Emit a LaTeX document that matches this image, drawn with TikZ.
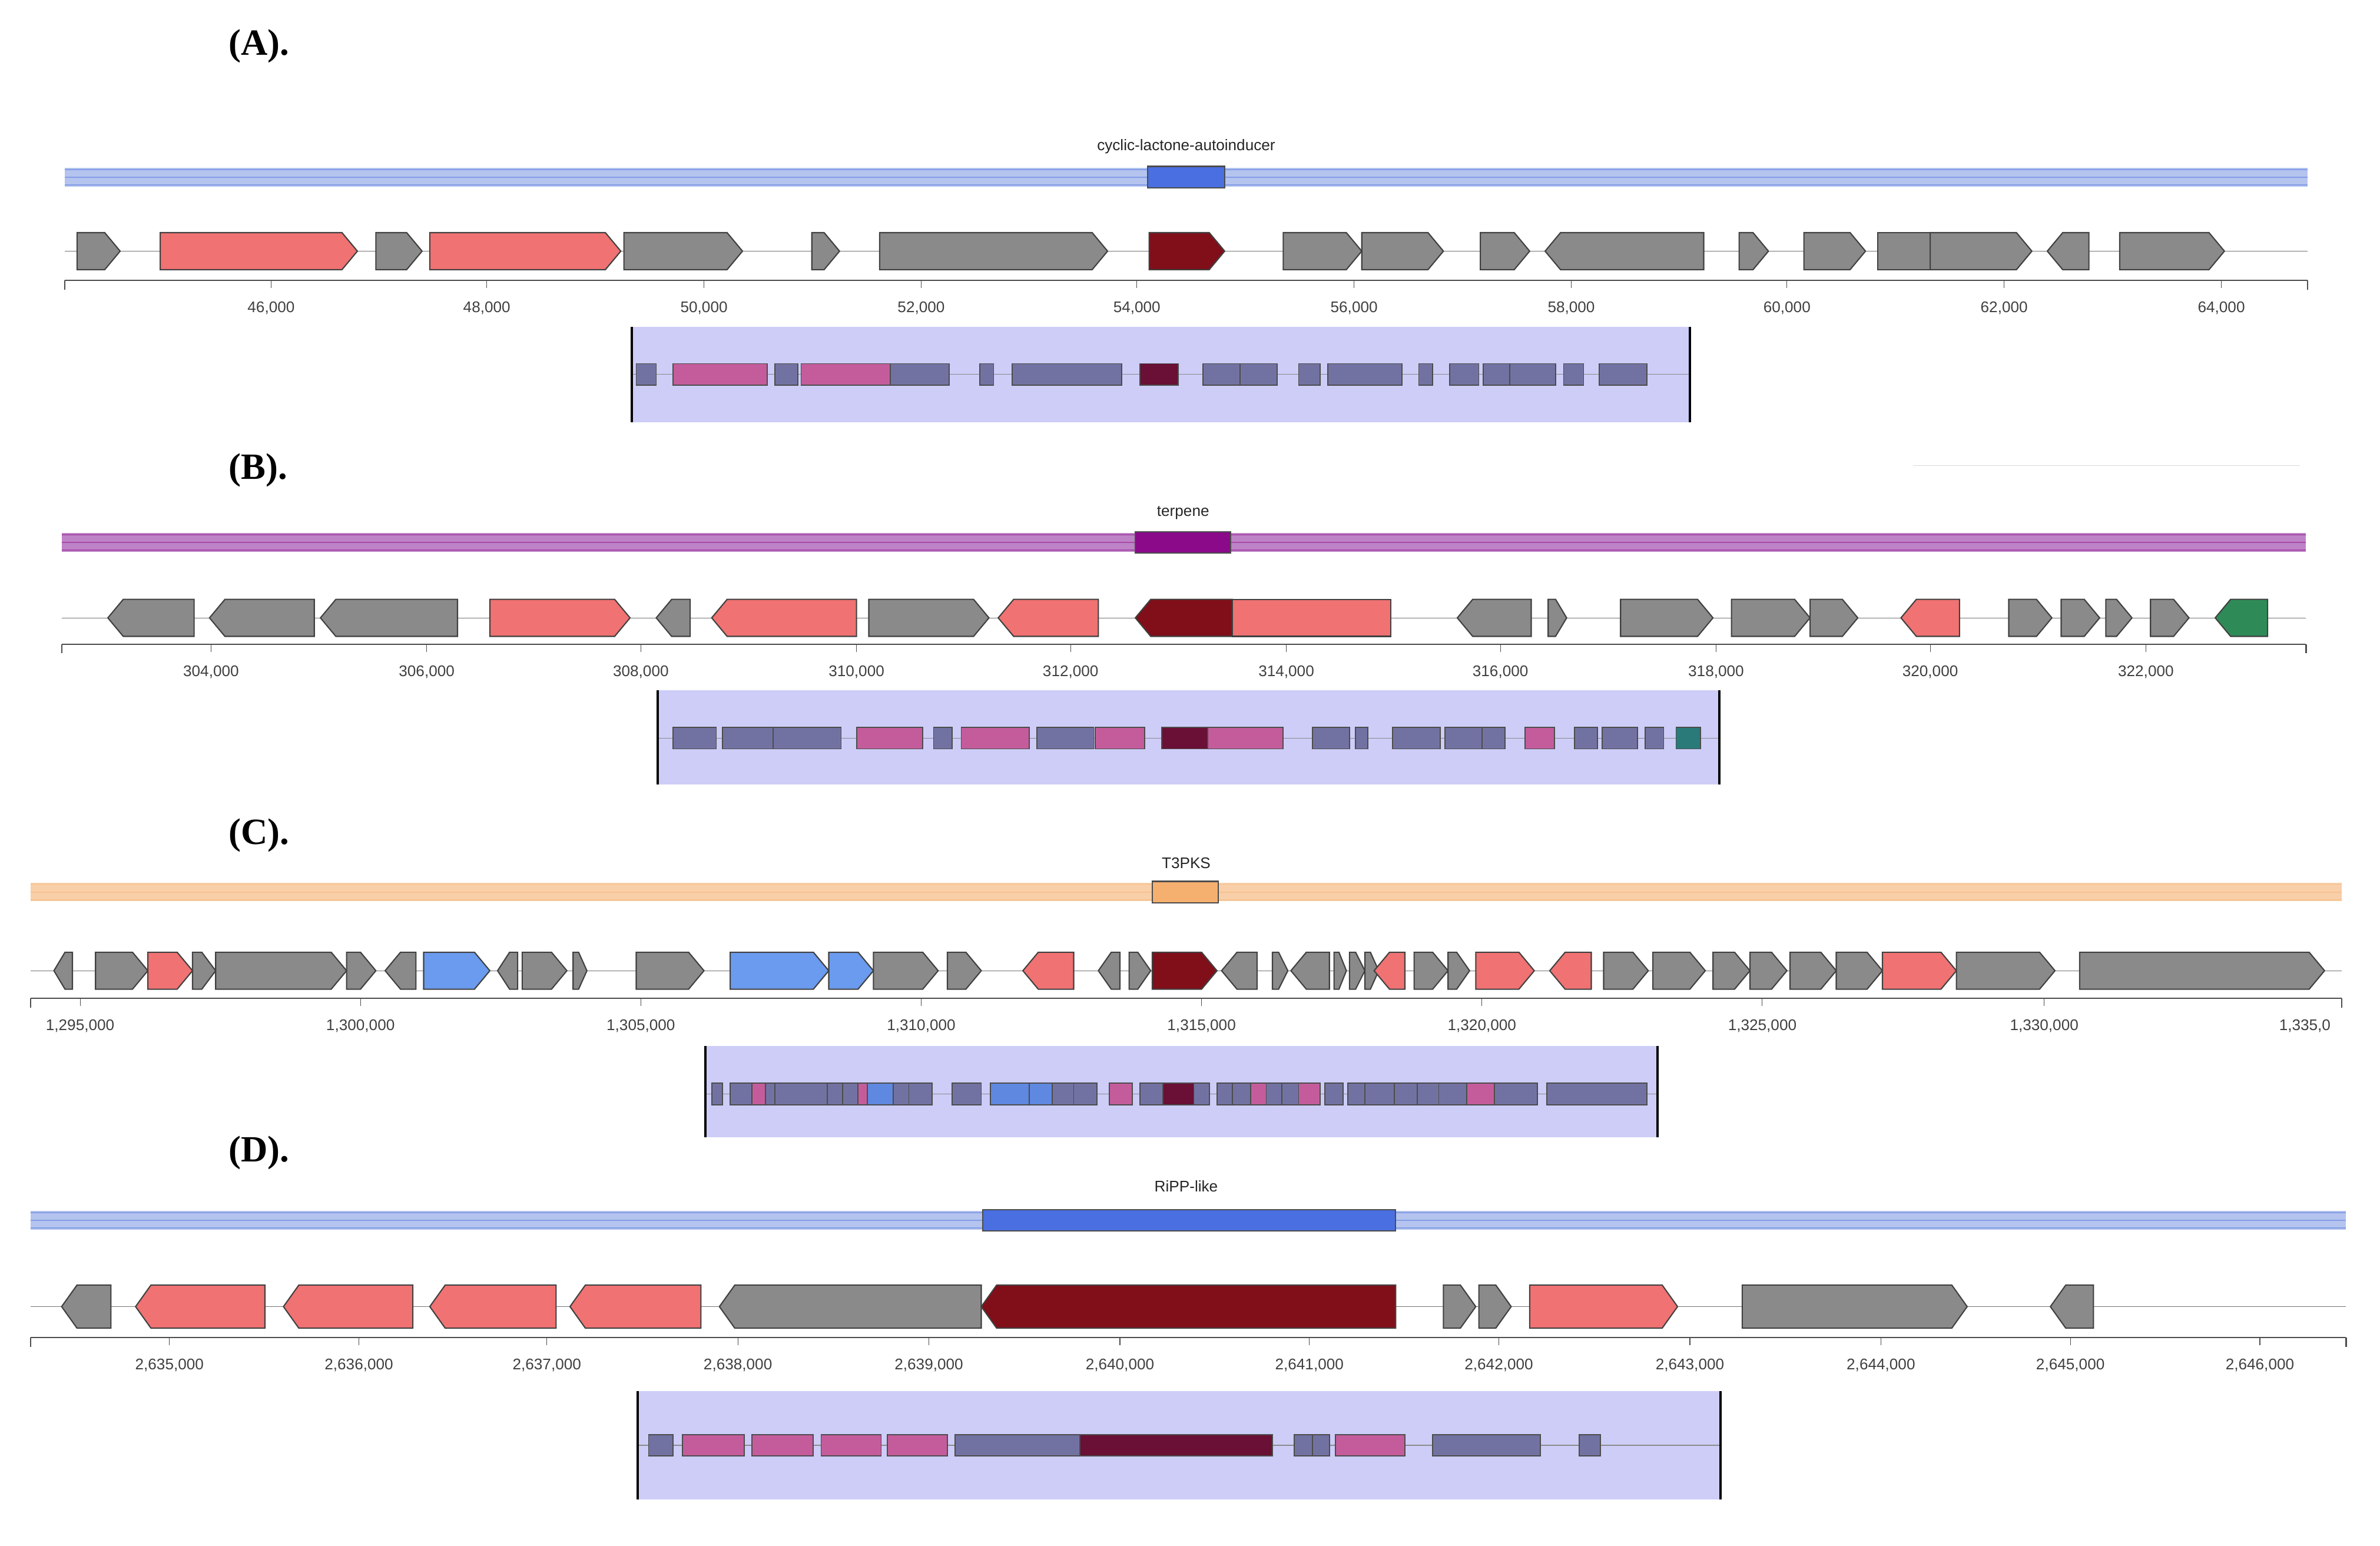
\documentclass[tikz,border=0pt]{standalone}
\usepackage{fontspec}
\setmainfont{Liberation Serif}
\newfontfamily\sans{Liberation Sans}
\definecolor{gG}{HTML}{8A8A8A}
\definecolor{gR}{HTML}{F07272}
\definecolor{gD}{HTML}{800F1A}
\definecolor{gB}{HTML}{6A9BEE}
\definecolor{gN}{HTML}{2E8B57}
\definecolor{lG}{HTML}{7272A2}
\definecolor{lR}{HTML}{C45C9C}
\definecolor{lD}{HTML}{6A0F35}
\definecolor{lB}{HTML}{5F88E0}
\definecolor{lN}{HTML}{2A7A7A}
\definecolor{lav}{HTML}{CDCDF8}
\definecolor{blL}{HTML}{B4C4EE}
\definecolor{blD}{HTML}{4A6FE0}
\definecolor{puL}{HTML}{BE82C6}
\definecolor{puD}{HTML}{8A0A8A}
\definecolor{orL}{HTML}{F8CFA8}
\definecolor{orD}{HTML}{F5B070}
\tikzset{gene/.style={draw=black!75,line width=0.8pt},
 lbox/.style={draw=black!70,line width=0.7pt},
 tick/.style={font=\sans\fontsize{10}{10}\selectfont,text=black!75},
 ttl/.style={font=\bfseries\fontsize{24}{24}\selectfont,anchor=west},
 blab/.style={font=\sans\fontsize{10}{10}\selectfont,text=black!85}}
\newcommand\genes[3]{% y, halfheight, list d/x1/x2/colour
 \foreach \d/\a/\b/\c in {#3}{%
  \pgfmathsetmacro\hl{min(10,(\b-\a)*0.6)}%
  \if\d r \draw[gene,fill=\c] (\a,#1-#2) -- (\b-\hl,#1-#2) -- (\b,#1) -- (\b-\hl,#1+#2) -- (\a,#1+#2) -- cycle;\fi
  \if\d l \draw[gene,fill=\c] (\b,#1-#2) -- (\a+\hl,#1-#2) -- (\a,#1) -- (\a+\hl,#1+#2) -- (\b,#1+#2) -- cycle;\fi
  \if\d b \draw[gene,fill=\c] (\a,#1-#2) rectangle (\b,#1+#2);\fi
 }}
\newcommand\lowtrack[6]{% x1,x2,ytop,ybot,yline,list a/b/c ; half 7
 \fill[lav] (#1,#3) rectangle (#2,#4);
 \draw[black!45] (#1,#5) -- (#2,#5);
 \draw[line width=1.6pt] (#1,#3) -- (#1,#4) (#2,#3) -- (#2,#4);
 \foreach \a/\b/\c in {#6}{\draw[lbox,fill=\c] (\a,#5-7) rectangle (\b,#5+7);}}
\newcommand\axistrack[4]{% x0,x1,y, list pos/label
 \draw[black!70,line width=0.8pt] (#1,#3) -- (#2,#3) (#1,#3) -- (#1,#3+6) (#2,#3) -- (#2,#3+6);
 \foreach \p/\t in {#4}{\draw[black!70] (\p,#3) -- (\p,#3+5); \node[tick] at (\p,#3+18) {\t};}}
\newcommand\bartrack[7]{% x0,x1,y,light,dark,bx1,bx2
 \fill[#4] (#1,#3-6) rectangle (#2,#3+6);
 \draw[#5,opacity=0.45,line width=0.6pt] (#1,#3-5) -- (#2,#3-5) (#1,#3) -- (#2,#3) (#1,#3+5) -- (#2,#3+5);
 \draw[black!70,fill=#5,line width=0.8pt] (#6,#3-7) rectangle (#7,#3+7);}
\begin{document}
\begin{tikzpicture}[x=1pt,y=-1pt]
\useasboundingbox (0,0) rectangle (1545,1003);
\fill[white] (0,0) rectangle (1545,1003);
% ---------- A
\node[ttl] at (145,30) {(A).};
\node[blab] at (770,95) {cyclic-lactone-autoinducer};
\bartrack{42}{1498}{115}{blL}{blD}{745}{795}
\draw[black!55] (42,163) -- (1498,163);
\genes{163}{12}{r/50/78/gG,r/104/232/gR,r/244/274/gG,r/279/403/gR,r/405/482/gG,r/527/545/gG,r/571/719/gG,r/746/795/gD,r/833/884/gG,r/884/937/gG,r/961/993/gG,l/1003/1106/gG,r/1129/1148/gG,r/1171/1211/gG,b/1219/1253/gG,r/1253/1319/gG,l/1329/1356/gG,r/1376/1444/gG}
\axistrack{42}{1498}{182}{176/{46,000},316/{48,000},457/{50,000},598/{52,000},738/{54,000},879/{56,000},1020/{58,000},1160/{60,000},1301/{62,000},1442/{64,000}}
\lowtrack{410}{1097}{212}{274}{243}{413/426/lG,437/498/lR,503/518/lG,520/578/lR,578/616/lG,636/645/lG,657/728/lG,740/765/lD,781/805/lG,805/829/lG,843/857/lG,862/910/lG,921/930/lG,941/960/lG,963/980/lG,980/1010/lG,1015/1028/lG,1038/1069/lG}
% ---------- B
\node[ttl] at (145,305) {(B).};
\draw[black!15] (1242,302) -- (1493,302);
\node[blab] at (768,333) {terpene};
\bartrack{40}{1497}{352}{puL}{puD}{737}{799}
\draw[black!55] (40,401) -- (1497,401);
\genes{401}{12}{l/70/126/gG,l/136/204/gG,l/208/297/gG,r/318/409/gR,l/426/448/gG,l/462/556/gR,r/564/642/gG,l/648/713/gR,l/737/800/gD,b/800/903/gR,l/946/994/gG,r/1005/1017/gG,r/1052/1112/gG,r/1124/1175/gG,r/1175/1206/gG,l/1234/1272/gR,r/1304/1332/gG,r/1338/1363/gG,r/1367/1384/gG,r/1396/1421/gG,l/1438/1472/gN}
\axistrack{40}{1497}{418}{137/{304,000},277/{306,000},416/{308,000},556/{310,000},695/{312,000},835/{314,000},974/{316,000},1114/{318,000},1253/{320,000},1393/{322,000}}
\lowtrack{427}{1116}{448}{509}{479}{437/465/lG,469/502/lG,502/546/lG,556/599/lR,606/618/lG,624/668/lR,673/710/lG,711/743/lR,754/784/lD,784/833/lR,852/876/lG,880/888/lG,904/935/lG,938/962/lG,962/977/lG,990/1009/lR,1022/1037/lG,1040/1063/lG,1068/1080/lG,1088/1104/lN}
% ---------- C
\node[ttl] at (145,542) {(C).};
\node[blab] at (770,560) {T3PKS};
\bartrack{20}{1520}{579}{orL}{orD}{748}{791}
\draw[black!55] (20,630) -- (1520,630);
\genes{630}{12}{l/35/47/gG,r/62/96/gG,r/96/125/gR,r/125/140/gG,r/140/225/gG,r/225/244/gG,l/250/270/gG,r/275/318/gB,l/323/336/gG,r/339/368/gG,r/372/381/gG,r/413/457/gG,r/474/538/gB,r/538/567/gB,r/567/609/gG,r/615/637/gG,l/664/697/gR,l/713/727/gG,r/733/747/gG,r/748/790/gD,l/793/816/gG,r/826/836/gG,l/838/863/gG,r/866/874/gG,r/876/886/gG,r/886/895/gG,l/892/912/gR,r/918/940/gG,r/940/954/gG,r/958/996/gR,l/1006/1033/gR,r/1041/1070/gG,r/1073/1107/gG,r/1112/1136/gG,r/1136/1160/gG,r/1162/1192/gG,r/1192/1222/gG,r/1222/1270/gR,r/1270/1334/gG,r/1350/1509/gG}
\axistrack{20}{1520}{648}{234/{1,300,000},416/{1,305,000},598/{1,310,000},780/{1,315,000},962/{1,320,000},1144/{1,325,000},1327/{1,330,000}}
\draw[black!70] (52,648) -- (52,653);
\node[tick] at (52,666) {1,295,000};
\node[tick,anchor=west] at (1476,666) {1,335,0};
\lowtrack{458}{1076}{679}{738}{710}{462/469/lG,474/488/lG,488/497/lR,497/503/lG,503/537/lG,537/547/lG,547/557/lG,557/563/lR,563/580/lB,580/590/lG,590/605/lG,618/637/lG,643/668/lB,668/683/lB,683/697/lG,697/712/lG,720/735/lR,740/755/lG,755/775/lD,775/785/lG,790/800/lG,800/812/lG,812/822/lR,822/832/lG,832/843/lG,843/857/lR,860/872/lG,875/886/lG,886/905/lG,905/920/lG,920/934/lG,934/952/lG,952/970/lR,970/998/lG,1004/1069/lG}
% ---------- D
\node[ttl] at (145,748) {(D).};
\node[blab] at (770,770) {RiPP-like};
\bartrack{20}{1523}{792}{blL}{blD}{638}{906}
\draw[black!55] (20,848) -- (1523,848);
\genes{848}{14}{l/40/72/gG,l/88/172/gR,l/184/268/gR,l/279/361/gR,l/370/455/gR,l/467/637/gG,l/637/906/gD,r/937/958/gG,r/960/981/gG,r/993/1089/gR,r/1131/1277/gG,l/1331/1359/gG}
\axistrack{20}{1523}{868}{110/{2,635,000},233/{2,636,000},355/{2,637,000},479/{2,638,000},603/{2,639,000},727/{2,640,000},850/{2,641,000},973/{2,642,000},1097/{2,643,000},1221/{2,644,000},1344/{2,645,000},1467/{2,646,000}}
\lowtrack{414}{1117}{903}{973}{938}{421/437/lG,443/483/lR,488/528/lR,533/572/lR,576/615/lR,620/701/lG,701/826/lD,840/852/lG,852/863/lG,867/912/lR,930/1000/lG,1025/1039/lG}
\end{tikzpicture}
\end{document}
